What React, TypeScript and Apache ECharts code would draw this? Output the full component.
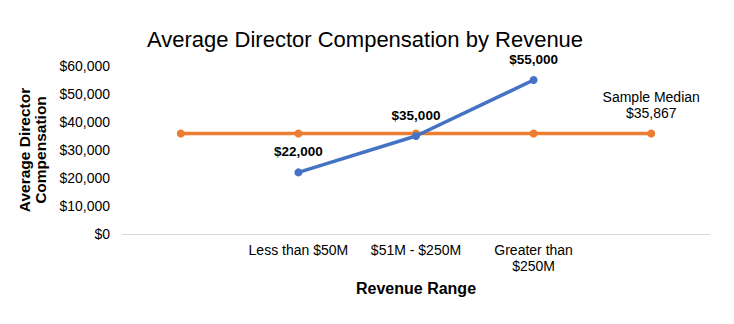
import React, { useEffect, useRef } from "react";
import * as echarts from "echarts";

const categories = ["", "Less than $50M", "$51M - $250M", "Greater than\n$250M", ""];
const averageComp = [null, 22000, 35000, 55000, null];
const sampleMedian = [35867, 35867, 35867, 35867, 35867];
const medianLabel = "Sample Median";

const fmt = (v: number) => "$" + v.toLocaleString("en-US");

export default function App() {
  const ref = useRef<HTMLDivElement>(null);
  useEffect(() => {
    const chart = echarts.init(ref.current!, null, { renderer: "svg" });
    const font = "Liberation Sans, Arial, sans-serif";
    chart.setOption({
      animation: false,
      textStyle: { fontFamily: font },
      title: {
        text: "Average Director Compensation by Revenue",
        left: 352,
        textAlign: "center",
        top: 15,
        textStyle: { fontSize: 22, fontWeight: "normal", color: "#000", fontFamily: font },
      },
      grid: { left: 114, right: 16, top: 58, bottom: 82, containLabel: false },
      xAxis: {
        type: "category",
        data: categories,
        boundaryGap: true,
        axisLine: { lineStyle: { color: "#d9d9d9" } },
        axisTick: { show: false },
        axisLabel: { color: "#000", fontSize: 14, fontFamily: font, margin: 8, interval: 0, lineHeight: 16 },
        name: "Revenue Range",
        nameLocation: "middle",
        nameGap: 46,
        nameTextStyle: { fontSize: 16, fontWeight: "bold", color: "#000", fontFamily: font },
      },
      yAxis: {
        type: "value",
        min: 0,
        max: 60000,
        interval: 10000,
        splitLine: { show: false },
        axisLine: { show: false },
        axisTick: { show: false },
        axisLabel: { color: "#000", fontSize: 14, fontFamily: font, formatter: (v: number) => fmt(v), margin: 12 },
        name: "Average Director\nCompensation",
        nameLocation: "middle",
        nameGap: 71,
        nameTextStyle: { fontSize: 15.5, fontWeight: "bold", color: "#000", fontFamily: font, lineHeight: 16 },
      },
      series: [
        {
          type: "line",
          data: sampleMedian,
          symbol: "circle",
          symbolSize: 8,
          itemStyle: { color: "#ED7D31" },
          lineStyle: { color: "#ED7D31", width: 3.5 },
          label: {
            show: true,
            position: "top",
            distance: 9,
            color: "#000",
            fontSize: 14,
            fontFamily: font,
            lineHeight: 16,
            formatter: (p: any) => (p.dataIndex === sampleMedian.length - 1 ? medianLabel + "\n" + fmt(p.value) : ""),
          },
          z: 2,
        },
        {
          type: "line",
          data: averageComp,
          symbol: "circle",
          symbolSize: 8,
          itemStyle: { color: "#4472C4" },
          lineStyle: { color: "#4472C4", width: 3.5 },
          label: {
            show: true,
            position: "top",
            distance: 10,
            color: "#000",
            fontSize: 13.5,
            fontWeight: "bold",
            fontFamily: font,
            formatter: (p: any) => fmt(p.value),
          },
          z: 3,
        },
      ],
    });
    return () => chart.dispose();
  }, []);
  return <div ref={ref} style={{ width: 718, height: 308 }} />;
}
